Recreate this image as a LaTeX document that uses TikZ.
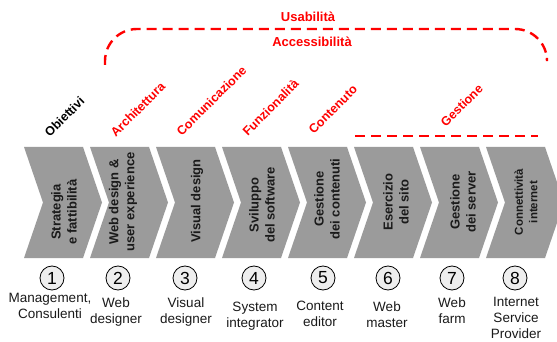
\documentclass[tikz,border=0pt]{standalone}
\usepackage{fontspec}
\setmainfont{Liberation Sans}
\definecolor{chevgrey}{HTML}{9B9B9B}
\definecolor{numgrey}{HTML}{EEEEEE}
\definecolor{txt}{HTML}{1A1A1A}
\begin{document}
\begin{tikzpicture}[x=1pt,y=-1pt,
  chev/.style={fill=chevgrey},
  chevtext/.style={rotate=90, align=center, font=\bfseries\fontsize{13}{16}\selectfont, text=txt, inner sep=0},
  toplabel/.style={rotate=45, anchor=south west, inner sep=0, font=\bfseries\fontsize{12.5}{15}\selectfont},
  num/.style={circle, draw=black, line width=0.8pt, fill=numgrey, minimum size=24pt, inner sep=0, font=\fontsize{17.5}{17.5}\selectfont},
  role/.style={anchor=north, align=center, inner sep=0, text=txt, font=\fontsize{13.5}{16}\selectfont},
  reddash/.style={draw=red, line width=2.4pt, dash pattern=on 10pt off 6pt},
  bigred/.style={text=red, inner sep=0, font=\bfseries\fontsize{13}{13}\selectfont}
]
\clip (0,0) rectangle (557,342);
\fill[white] (0,0) rectangle (557,342);
\foreach \i in {0,...,7}{
  \pgfmathsetmacro\xa{24+66*\i}
  \fill[chev] (\xa,147) -- ++(59,0) -- ++(19,55.5) -- ++(-19,55.5) -- ++(-59,0) -- ++(19,-55.5) -- cycle;
}
\node[chevtext] (c1) at (64,212) {Strategia\\e fattibilità};
\node[chevtext] (c2) at (123,202) {Web design \&\\user experience};
\node[chevtext] (c3) at (197,201) {Visual design};
\node[chevtext] (c4) at (262,205) {Sviluppo\\del software};
\node[chevtext] (c5) at (327,199) {Gestione\\dei contenuti};
\node[chevtext] (c6) at (396,202) {Esercizio\\del sito};
\node[chevtext] (c7) at (463,202) {Gestione\\dei server};
\node[chevtext, font=\bfseries\fontsize{11.5}{14.5}\selectfont] (c8) at (526,202) {Connettività\\internet};

\node[num] (n1) at (52,278) {1};
\node[num] (n2) at (118,278) {2};
\node[num] (n3) at (185,278) {3};
\node[num] (n4) at (254,278) {4};
\node[num] (n5) at (323,278) {5};
\node[num] (n6) at (388,278) {6};
\node[num] (n7) at (452,278) {7};
\node[num] (n8) at (515,278) {8};

\node[role] (r1) at (50,293) {Management,\\Consulenti};
\node[role] (r2) at (116,298) {Web\\designer};
\node[role] (r3) at (186,298) {Visual\\designer};
\node[role] (r4) at (255,302) {System\\integrator};
\node[role] (r5) at (320,301) {Content\\editor};
\node[role] (r6) at (387,302) {Web\\master};
\node[role] (r7) at (452,298) {Web\\farm};
\node[role] (r8) at (516,297) {Internet\\Service\\Provider};

\node[toplabel, text=black] (t1) at (50,138) {Obiettivi};
\node[toplabel, text=red] (t2) at (116,138) {Architettura};
\node[toplabel, text=red] (t3) at (182,137) {Comunicazione};
\node[toplabel, text=red] (t4) at (248,137) {Funzionalità};
\node[toplabel, text=red] (t5) at (314,135) {Contenuto};
\node[toplabel, text=red] (t6) at (446,128) {Gestione};

\coordinate (dl) at (105,65);
\coordinate (dr) at (547,58);
\draw[reddash, rounded corners=32pt] (dl) -- (105,29) -- (547,29) -- (dr);
\coordinate (g1) at (355,136);
\coordinate (g2) at (538,136);
\draw[reddash] (g1) -- (g2);
\node[bigred] (us) at (308,17) {Usabilità};
\node[bigred] (ac) at (312,42) {Accessibilità};
\end{tikzpicture}
\end{document}
